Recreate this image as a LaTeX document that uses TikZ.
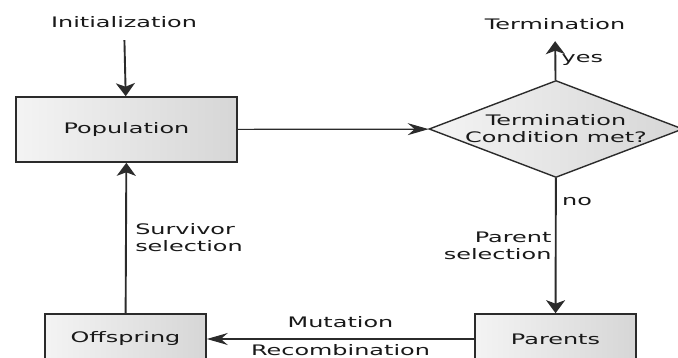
\documentclass[tikz,border=0pt]{standalone}
\usepackage{fontspec}
\setmainfont{DejaVu Sans}[FakeStretch=1.65]
\usepackage{tikz}
\usetikzlibrary{positioning}
\usetikzlibrary{arrows.meta}
\usetikzlibrary{shapes.geometric}
\definecolor{linegray}{HTML}{2B2B2B}
\tikzset{
    every node/.style={ % all texts
        font=\fontsize{14.5}{17}\selectfont,
        text=black!90
    },
    box/.style={ % shaded process boxes
        draw=linegray, line width=1.6pt,
        left color=gray!9, right color=gray!32,
        minimum width=161pt, minimum height=50pt, inner sep=0pt
    },
    decision/.style={ % the test
        diamond, draw=linegray, line width=1.4pt,
        left color=gray!9, right color=gray!32,
        minimum width=254pt, minimum height=97pt, inner sep=0pt
    },
    every edge/.style={draw=linegray},
    vflow/.style={ % up and down connectors
        line width=1.9pt,
        -{Stealth[length=13pt,width=19pt,inset=3.5pt]}
    },
    hflow/.style={ % left and right connectors
        line width=1.2pt,
        -{Stealth[length=21pt,width=12pt,inset=7pt]}
    }
}

\begin{document}
\begin{tikzpicture}[x=1pt, y=-1pt]
    \clip (0,0) rectangle (678,358);

    \node (init) at (124,22) {Initialization};
    \node[box, minimum width=221pt, minimum height=65pt] (pop) at (126.5,129.5) {Population};
    \node[decision] (cond) at (556,129) {};
    \node[align=center] (condtext) at (cond) {Termination\\Condition met?};
    \node (term) at (555,24) {Termination};
    \node[box] (parents) at (555.5,339) {Parents};
    \node[box] (offspring) at (125.5,339) {Offspring};

    \draw (init) edge[vflow, shorten <=9pt] (pop);
    \draw (pop) edge[hflow] (cond);
    \draw (cond) edge[vflow, shorten >=8pt] node[pos=0.42, right, xshift=2pt] {yes} (term);
    \draw (cond) edge[vflow] node[pos=0.17, right, xshift=2pt] {no}
                      node[midway, left, align=right] {Parent\\selection} (parents);
    \draw (parents) edge[hflow] node[midway, above=7pt] {Mutation}
                         node[midway, below=2pt] {Recombination} (offspring);
    \draw (offspring) edge[vflow] node[midway, right, xshift=5pt, align=left] {Survivor\\selection} (pop);

\end{tikzpicture}
\end{document}
